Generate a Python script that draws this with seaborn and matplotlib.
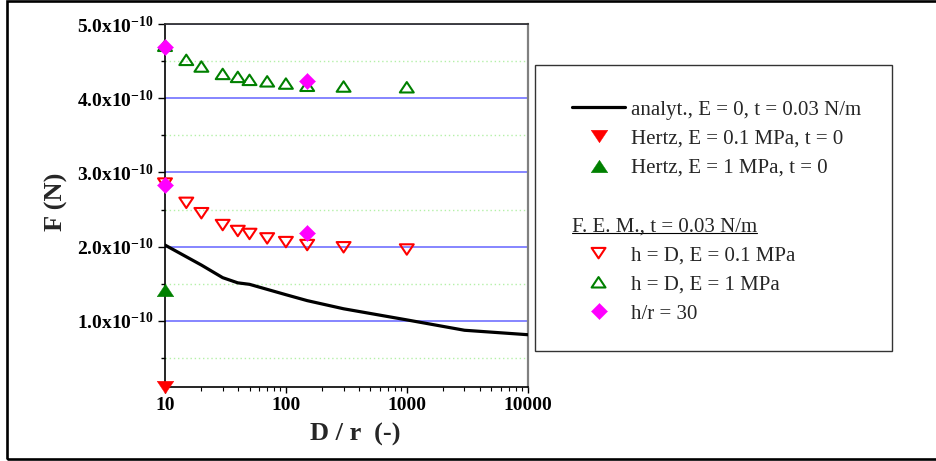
import numpy as np
import matplotlib
matplotlib.use("Agg")
import matplotlib.pyplot as plt
import seaborn as sns
from matplotlib.ticker import FuncFormatter, LogLocator, NullFormatter, FixedLocator
from matplotlib.lines import Line2D
from matplotlib.patches import Rectangle
from matplotlib.path import Path
from matplotlib.font_manager import FontProperties

# ---------------- data (forces in units of 1e-10 N) ----------------
SCALE = 1e-10
D_analyt = np.array([10, 20, 30, 40, 50, 100, 150, 300, 1000, 3000, 10000])
F_analyt = np.array([2.02, 1.75, 1.58, 1.51, 1.49, 1.35, 1.27, 1.16, 1.01, 0.87, 0.81])

D_hertz = np.array([10])
F_hertz_E01 = np.array([0.11])
F_hertz_E1 = np.array([1.42])

D_fem = np.array([10, 15, 20, 30, 40, 50, 70, 100, 150, 300, 1000])
F_fem_E01 = np.array([2.85, 2.59, 2.45, 2.29, 2.21, 2.17, 2.11, 2.06, 2.02, 1.99, 1.96])
F_fem_E1 = np.array([4.71, 4.52, 4.43, 4.33, 4.29, 4.25, 4.23, 4.20, 4.17, 4.16, 4.15])

D_hr30 = np.array([10, 150, 10, 150])
F_hr30 = np.array([4.69, 4.24, 2.83, 2.18])

x_ticks = [10, 100, 1000, 10000]
y_ticks = [1.0, 2.0, 3.0, 4.0, 5.0]
y_minor_ticks = [0.5, 1.5, 2.5, 3.5, 4.5]

labels = [
    "analyt., E = 0, t = 0.03 N/m",
    "Hertz, E = 0.1 MPa, t = 0",
    "Hertz, E = 1 MPa, t = 0",
    " ",
    " ",
    "h = D, E = 0.1 MPa",
    "h = D, E = 1 MPa",
    "h/r = 30",
]
fem_header = "F. E. M., t = 0.03 N/m"

# ---------------- style ----------------
sns.set_style("ticks")
plt.rcParams.update({
    "font.family": ["Liberation Serif", "DejaVu Serif"],
    "font.weight": "bold",
    "mathtext.fontset": "custom",
    "mathtext.rm": "Liberation Serif",
    "mathtext.bf": "Liberation Serif:bold",
    "mathtext.it": "Liberation Serif:italic",
    "xtick.labelsize": 14,
    "ytick.labelsize": 14,
    "figure.facecolor": "white",
    "axes.facecolor": "white",
})

W, H = 936, 461
fig = plt.figure(figsize=(W / 100, H / 100), dpi=100)
ax = fig.add_axes([165 / W, 1 - 387.3 / H, 362.7 / W, 363 / H])
ax.set_xscale("log")

tri_up = Path([(-1, -0.75), (1, -0.75), (0, 0.75), (-1, -0.75)], closed=True)
tri_dn = Path([(-1, 0.75), (1, 0.75), (0, -0.75), (-1, 0.75)], closed=True)
diamond = Path([(0, 1), (1, 0), (0, -1), (-1, 0), (0, 1)], closed=True)

sns.lineplot(x=D_analyt, y=F_analyt * SCALE, color="black", linewidth=2.3,
             errorbar=None, legend=False, ax=ax, zorder=3)
h_line = ax.lines[-1]


def scat(x, y, **kw):
    n = len(ax.collections)
    sns.scatterplot(x=x, y=y, legend=False, ax=ax, clip_on=False, **kw)
    return ax.collections[n]


h_fem01 = scat(D_fem, F_fem_E01 * SCALE, marker=tri_dn, s=100, facecolor="none",
               edgecolor="#ff0000", linewidth=1.5, zorder=4)
h_fem1 = scat(D_fem, F_fem_E1 * SCALE, marker=tri_up, s=100, facecolor="none",
              edgecolor="#008000", linewidth=1.5, zorder=4)
h_hz01 = scat(D_hertz, F_hertz_E01 * SCALE, marker=tri_dn, s=144, facecolor="#ff0000",
              edgecolor="#ff0000", linewidth=0.3, zorder=5)
h_hz1 = scat(D_hertz, F_hertz_E1 * SCALE, marker=tri_up, s=144, facecolor="#008000",
             edgecolor="#008000", linewidth=0.3, zorder=5)
h_hr = scat(D_hr30, F_hr30 * SCALE, marker=diamond, s=135, facecolor="#ff00ff",
            edgecolor="#ff00ff", linewidth=0.3, zorder=6)

# ---------------- axes ----------------
ax.set_xlim(10, 10000)
ax.set_ylim(0.1 * SCALE, 5.0 * SCALE)
ax.xaxis.set_major_locator(FixedLocator(x_ticks))
ax.xaxis.set_major_formatter(FuncFormatter(lambda v, p: f"{v:.0f}"))
ax.xaxis.set_minor_locator(LogLocator(base=10, subs=np.arange(2, 10)))
ax.xaxis.set_minor_formatter(NullFormatter())
ax.yaxis.set_major_locator(FixedLocator([v * SCALE for v in y_ticks]))
ax.yaxis.set_minor_locator(FixedLocator([v * SCALE for v in y_minor_ticks]))
ax.yaxis.set_major_formatter(
    FuncFormatter(lambda v, p: r"$\mathbf{%.1fx10^{-10}}$" % (v / SCALE)))
ax.yaxis.set_minor_formatter(NullFormatter())

ax.tick_params(axis="both", which="both", direction="out", colors="black")
ax.tick_params(axis="y", which="major", length=5, width=1.0, pad=3)
ax.tick_params(axis="y", which="minor", length=3, width=1.0)
ax.tick_params(axis="x", which="major", length=4, width=1.0, pad=3)
ax.tick_params(axis="x", which="minor", length=3, width=0.8)

ax.set_axisbelow(True)
ax.yaxis.grid(True, which="major", color="#6464ff", linewidth=1.1)
ax.yaxis.grid(True, which="minor", color="#b4f0a8", linewidth=1.0, linestyle=(0, (1, 2)))
ax.xaxis.grid(False, which="both")

for s in ["left", "bottom"]:
    ax.spines[s].set_color("black")
    ax.spines[s].set_linewidth(1.2)
ax.spines["top"].set_visible(True)
ax.spines["right"].set_visible(True)
ax.spines["top"].set_color("#333333")
ax.spines["top"].set_linewidth(1.3)
ax.spines["right"].set_color("#808080")
ax.spines["right"].set_linewidth(1.6)

ax.set_xlabel("D / r  (-)", fontsize=19, fontweight="bold")
ax.set_ylabel("F (N)", fontsize=19, fontweight="bold")
ax.xaxis.set_label_coords(0.525, -0.097)
ax.yaxis.set_label_coords(-0.267, 0.51)

# ---------------- legend ----------------
blank1 = Line2D([], [], linestyle="none")
blank2 = Line2D([], [], linestyle="none")
handles = [h_line, h_hz01, h_hz1, blank1, blank2, h_fem01, h_fem1, h_hr]
prop = FontProperties(family="Liberation Serif", size=15, weight="normal")
leg = fig.legend(handles, labels, loc="upper left",
                 bbox_to_anchor=(572 / W, 1 - 100 / H), bbox_transform=fig.transFigure,
                 frameon=False, borderpad=0, borderaxespad=0,
                 handlelength=2.55, handletextpad=0.3, labelspacing=0.46,
                 prop=prop, scatterpoints=1, scatteryoffsets=[0.5])

fig.add_artist(Rectangle((535 / W, 1 - 351 / H), (892 - 535) / W, (351 - 65) / H,
                         transform=fig.transFigure, fill=False, edgecolor="#333333",
                         linewidth=1.0))
fig.add_artist(Rectangle((7.3 / W, 1.7 / H), 1.0, (459.3 - 1.3) / H,
                         transform=fig.transFigure, fill=False, edgecolor="black",
                         linewidth=1.9, clip_on=False))

fig.canvas.draw()
r = fig.canvas.get_renderer()
bb = leg.get_texts()[4].get_window_extent(r)
yc = (bb.y0 + bb.y1) / 2
ht = fig.text(572 / W, yc / H, fem_header, ha="left", va="center", fontproperties=prop)
fig.canvas.draw()
hb = ht.get_window_extent(r)
y_ul = hb.y0 + 0.216 * 15 * 100 / 72 - 1.6
fig.add_artist(Line2D([hb.x0 / W, hb.x1 / W], [y_ul / H, y_ul / H],
                      transform=fig.transFigure, color="black", linewidth=0.8))

fig.savefig("out.png", dpi=100)
